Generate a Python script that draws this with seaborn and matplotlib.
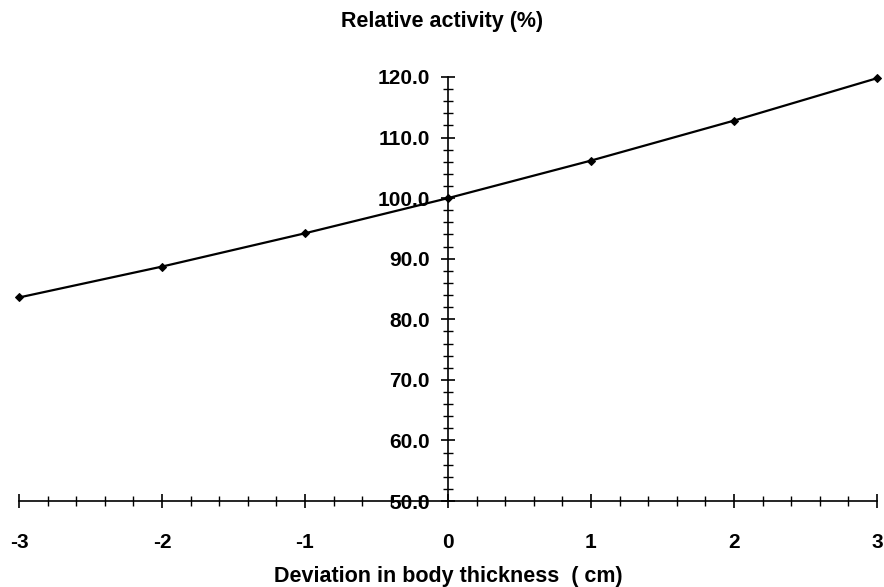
import matplotlib
matplotlib.use("Agg")
import matplotlib.pyplot as plt
import seaborn as sns
import pandas as pd
from matplotlib.ticker import MultipleLocator, FormatStrFormatter

deviation = [-3, -2, -1, 0, 1, 2, 3]
activity = [83.6, 88.7, 94.2, 100.0, 106.2, 112.8, 119.8]

title = "Relative activity (%)"
xlabel = "Deviation in body thickness  ( cm)"

sns.set_style("white")
plt.rcParams['font.family'] = ['Liberation Sans', 'DejaVu Sans']
plt.rcParams['axes.unicode_minus'] = False
plt.rcParams['text.color'] = 'black'
plt.rcParams['xtick.color'] = 'black'
plt.rcParams['ytick.color'] = 'black'
plt.rcParams['axes.labelcolor'] = 'black'

df = pd.DataFrame({"x": deviation, "y": activity})

fig = plt.figure(figsize=(8.84, 5.87), dpi=100)
top_px, bot_px = 77, 501
ax = fig.add_axes([19/884, 1 - bot_px/587, (877 - 19)/884, (bot_px - top_px)/587])

sns.lineplot(data=df, x="x", y="y", ax=ax, color="black", linewidth=1.6,
             marker="D", markersize=4.5, markeredgecolor="black", clip_on=False)

ax.set_xlim(-3, 3)
ax.set_ylim(50, 120)

for s in ["top", "right"]:
    ax.spines[s].set_visible(False)
ax.spines["left"].set_position(("data", 0))
ax.spines["left"].set_linewidth(1.2)
ax.spines["bottom"].set_linewidth(1.2)
ax.spines["left"].set_color("black")
ax.spines["bottom"].set_color("black")

ax.xaxis.set_major_locator(MultipleLocator(1))
ax.xaxis.set_minor_locator(MultipleLocator(0.2))
ax.yaxis.set_major_locator(MultipleLocator(10))
ax.yaxis.set_minor_locator(MultipleLocator(2))
ax.yaxis.set_major_formatter(FormatStrFormatter("%.1f"))

ax.tick_params(axis="both", which="both", bottom=True, left=True, top=False, right=False)
ax.tick_params(axis="x", which="major", direction="inout", length=10, width=1.2,
               pad=18, labelsize=15)
ax.tick_params(axis="x", which="minor", direction="inout", length=7, width=1.0)
ax.tick_params(axis="y", which="major", direction="inout", length=10, width=1.2,
               pad=8, labelsize=15)
ax.tick_params(axis="y", which="minor", direction="inout", length=7, width=1.0)
for lab in ax.get_xticklabels() + ax.get_yticklabels():
    lab.set_fontweight("bold")

ax.set_xlabel(xlabel, fontsize=15.5, fontweight="bold", labelpad=10)
ax.set_ylabel("")
fig.text(0.5, 1 - 22/587, title, ha="center", va="center", fontsize=15.5, fontweight="bold")

fig.savefig("out.png", dpi=100, facecolor="white")
